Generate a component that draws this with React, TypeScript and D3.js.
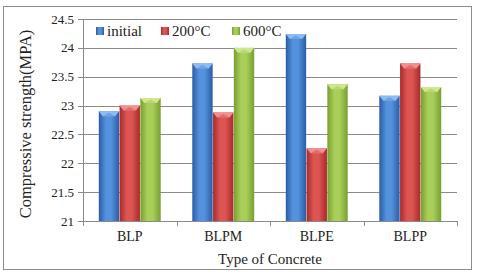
import * as d3 from 'd3'

const categories = ['BLP', 'BLPM', 'BLPE', 'BLPP']
const seriesNames = ['initial', '200°C', '600°C']
const initialValues = [22.9, 23.73, 24.24, 23.17]
const t200Values = [23.0, 22.88, 22.26, 23.73]
const t600Values = [23.13, 24.0, 23.37, 23.32]
const yTicks = [21, 21.5, 22, 22.5, 23, 23.5, 24, 24.5]

const seriesValues = [initialValues, t200Values, t600Values]
const palette = [
  { edge: '#2a5ca6', mid: '#5592dd', light: '#8cbcf0' },
  { edge: '#a82a2a', mid: '#dc5553', light: '#f09090' },
  { edge: '#789f30', mid: '#a9cf5a', light: '#cfe890' },
]

const W = 480
const H = 274
const margin = { left: 83, right: 23, top: 19, bottom: 53 }
const font = '"Liberation Serif", "Times New Roman", serif'

export default function App() {
  const x0 = d3
    .scaleBand<string>()
    .domain(categories)
    .range([margin.left, W - margin.right])
  const x1 = d3
    .scaleBand<string>()
    .domain(seriesNames)
    .range([0, x0.bandwidth()])
    .paddingInner(0.02)
    .paddingOuter(0.76)
  const y = d3
    .scaleLinear()
    .domain([21, 24.5])
    .range([H - margin.bottom, margin.top])

  const bottom = y(21)
  const left = margin.left
  const right = W - margin.right
  const grid = '#8a8a8a'

  // ticks between categories
  const xTicks = categories.map((c) => x0(c) as number).concat([right])

  return (
    <svg
      width={W}
      height={H}
      style={{ position: 'absolute', left: 0, top: 0, background: '#fff' }}
      fontFamily={font}
    >
      <defs>
        {palette.map((p, i) => (
          <linearGradient key={i} id={`g${i}`} x1="0" x2="1" y1="0" y2="0">
            <stop offset="0" stopColor={p.edge} />
            <stop offset="0.35" stopColor={p.mid} />
            <stop offset="0.6" stopColor={p.mid} />
            <stop offset="1" stopColor={p.edge} />
          </linearGradient>
        ))}
      </defs>
      <rect x={3.5} y={6.5} width={468} height={263} fill="#fff" stroke="#8c8c8c" />

      {yTicks.map((t) => (
        <g key={t}>
          <line x1={left - 5} x2={right} y1={Math.round(y(t)) + 0.5} y2={Math.round(y(t)) + 0.5} stroke={grid} />
          <text x={left - 9} y={y(t)} dy="0.35em" textAnchor="end" fontSize={13} fill="#222">
            {t}
          </text>
        </g>
      ))}

      <line x1={left + 0.5} x2={left + 0.5} y1={y(24.5)} y2={bottom} stroke={grid} />
      {xTicks.map((t, i) => (
        <line key={i} x1={Math.round(t) + 0.5} x2={Math.round(t) + 0.5} y1={bottom} y2={bottom + 5} stroke={grid} />
      ))}

      {categories.map((c, ci) => (
        <g key={c} transform={`translate(${x0(c)},0)`}>
          {seriesNames.map((s, si) => {
            const v = seriesValues[si][ci]
            const bx = x1(s) as number
            const bw = x1.bandwidth()
            const top = y(v)
            const p = palette[si]
            return (
              <g key={s}>
                <rect x={bx} y={top} width={bw} height={bottom - top} fill={`url(#g${si})`} />
                <path
                  d={`M${bx},${top} L${bx + bw},${top} L${bx + bw - 4},${top + 5} L${bx + 4},${top + 5} Z`}
                  fill={p.light}
                />
                <path
                  d={`M${bx + 4},${top + 5} L${bx + bw - 4},${top + 5} L${bx + bw / 2},${top + 1.5} Z`}
                  fill={p.mid}
                  opacity={0.6}
                />
              </g>
            )
          })}
          <text
            x={x0.bandwidth() / 2}
            y={bottom + 15}
            dy="0.35em"
            textAnchor="middle"
            fontSize={14}
            fill="#222"
          >
            {c}
          </text>
        </g>
      ))}

      {/* legend */}
      {seriesNames.map((s, i) => {
        const lx = [96, 161, 232][i]
        return (
          <g key={s}>
            <rect x={lx} y={27} width={8} height={8} fill={`url(#g${i})`} />
            <text x={lx + 11} y={31} dy="0.35em" fontSize={15} fill="#222">
              {s}
            </text>
          </g>
        )
      })}

      <text x={(left + right) / 2} y={259} dy="0.35em" textAnchor="middle" fontSize={15} fill="#222">
        Type of Concrete
      </text>
      <text
        transform={`translate(25,${(y(24.5) + bottom) / 2 + 4}) rotate(-90)`}
        dy="0.35em"
        textAnchor="middle"
        fontSize={16.5}
        fill="#222"
      >
        Compressive strength(MPA)
      </text>
    </svg>
  )
}
